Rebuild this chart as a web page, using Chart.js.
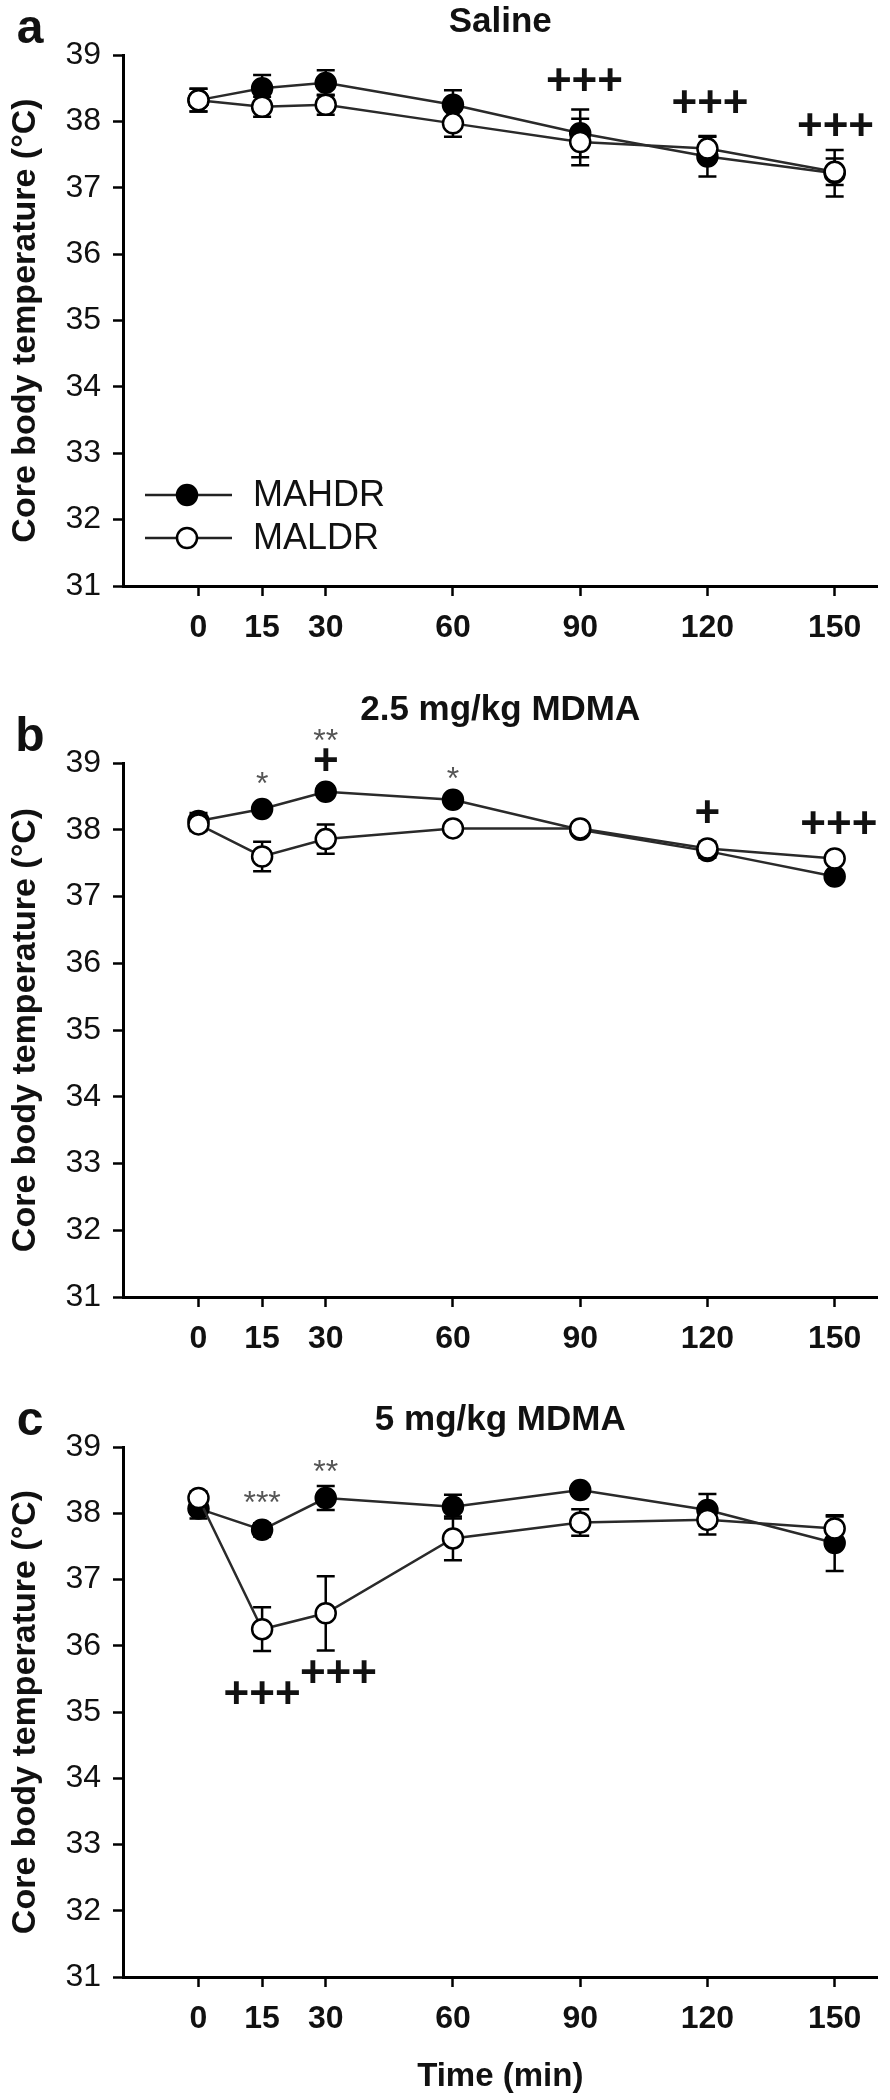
<!DOCTYPE html>
<html>
<head>
<meta charset="utf-8">
<title>Core body temperature</title>
<script src="https://cdn.jsdelivr.net/npm/chart.js@4.4.1/dist/chart.umd.min.js"></script>
<style>
  html, body { margin: 0; padding: 0; background: #fff; }
  #wrap { position: relative; width: 890px; height: 2100px; }
  .panel { position: absolute; left: 0; width: 890px; }
  canvas { display: block; }
</style>
</head>
<body>
<div id="wrap">
  <div class="panel" style="top:0px;height:660px"><canvas id="panelA" width="890" height="660"></canvas></div>
  <div class="panel" style="top:660px;height:700px"><canvas id="panelB" width="890" height="700"></canvas></div>
  <div class="panel" style="top:1360px;height:740px"><canvas id="panelC" width="890" height="740"></canvas></div>
</div>
<script>
// time after injection (min)
const times = [0, 15, 30, 60, 90, 120, 150];
const xTicks = [0, 15, 30, 60, 90, 120, 150];
const xMin = -17.8, xMax = 160.1;
const yMin = 31, yMax = 39;
const seriesNames = ['MAHDR', 'MALDR'];

// saline
const salineHigh    = [38.32, 38.50, 38.58, 38.25, 37.82, 37.47, 37.22];
const salineHighSem = [0.17, 0.20, 0.19, 0.22, 0.36, 0.30, 0.35];
const salineLow     = [38.32, 38.22, 38.25, 37.97, 37.69, 37.59, 37.24];
const salineLowSem  = [0.17, 0.15, 0.15, 0.20, 0.35, 0.19, 0.20];

// 2.5 mg/kg MDMA
const mdma25High    = [38.13, 38.31, 38.57, 38.45, 38.00, 37.68, 37.30];
const mdma25HighSem = [0.12, 0.06, 0.08, 0.06, 0.08, 0.10, 0.06];
const mdma25Low     = [38.08, 37.60, 37.86, 38.02, 38.02, 37.72, 37.57];
const mdma25LowSem  = [0.10, 0.22, 0.22, 0.08, 0.08, 0.10, 0.06];

// 5 mg/kg MDMA
const mdma5High    = [38.07, 37.75, 38.23, 38.10, 38.35, 38.05, 37.55];
const mdma5HighSem = [0.15, 0.10, 0.18, 0.18, 0.08, 0.24, 0.42];
const mdma5Low     = [38.23, 36.25, 36.49, 37.62, 37.86, 37.90, 37.77];
const mdma5LowSem  = [0.10, 0.33, 0.56, 0.33, 0.20, 0.22, 0.18];

// significance marks: [time, temperature, text]
const notesA = [[91, 38.58, '+++'], [120.6, 38.25, '+++'], [150.2, 37.90, '+++']];
const notesB = [[15, 38.77, '*'], [30, 39.42, '**'], [60, 38.85, '*'],
                [30, 39.00, '+'], [120, 38.22, '+'], [151, 38.06, '+++']];
const notesC = [[15, 38.24, '***'], [30, 38.71, '**'],
                [15, 35.24, '+++'], [33, 35.56, '+++']];

const FAMILY = "Arial, 'Liberation Sans', Helvetica, sans-serif";
Chart.defaults.font.family = FAMILY;
Chart.defaults.color = '#111';

const toPoints = vals => times.map((t, i) => ({ x: t, y: vals[i] }));

function drawMarker(ctx, px, py, filled) {
  ctx.beginPath();
  ctx.arc(px, py, 10, 0, Math.PI * 2);
  ctx.fillStyle = filled ? '#000' : '#fff';
  ctx.fill();
  ctx.lineWidth = 2.5;
  ctx.strokeStyle = '#000';
  ctx.stroke();
}

const extras = {
  id: 'extras',
  beforeDatasetsDraw(chart) {
    const { ctx, scales: { x, y } } = chart;
    ctx.save();
    ctx.strokeStyle = '#000';
    ctx.lineWidth = 2.5;
    chart.data.datasets.forEach(ds => {
      ds.data.forEach((p, i) => {
        const s = ds.sem[i];
        const px = x.getPixelForValue(p.x);
        const top = y.getPixelForValue(p.y + s), bot = y.getPixelForValue(p.y - s);
        ctx.beginPath();
        ctx.moveTo(px, top); ctx.lineTo(px, bot);
        ctx.moveTo(px - 9, top); ctx.lineTo(px + 9, top);
        ctx.moveTo(px - 9, bot); ctx.lineTo(px + 9, bot);
        ctx.stroke();
      });
    });
    ctx.restore();
  },
  afterDraw(chart, args, opts) {
    const { ctx, chartArea, scales: { x, y } } = chart;
    ctx.save();
    ctx.textAlign = 'center';
    ctx.textBaseline = 'middle';
    ctx.fillStyle = '#111';
    ctx.font = 'bold 48px ' + FAMILY;
    ctx.fillText(opts.letter, chartArea.left - 93, chartArea.top - 25);

    opts.notes.forEach(([t, v, txt]) => {
      const star = txt.includes('*');
      ctx.font = star ? '32px ' + FAMILY : 'bold 44px ' + FAMILY;
      ctx.fillStyle = star ? '#555' : '#111';
      ctx.fillText(txt, x.getPixelForValue(t), y.getPixelForValue(v) + (star ? 7 : 0));
    });

    if (opts.legend) {
      ctx.textAlign = 'left';
      ctx.font = '36px ' + FAMILY;
      seriesNames.forEach((name, i) => {
        const ry = chartArea.bottom - 91 + i * 43;
        const lx = chartArea.left + 22;
        ctx.strokeStyle = '#222';
        ctx.lineWidth = 2.5;
        ctx.beginPath();
        ctx.moveTo(lx, ry); ctx.lineTo(lx + 87, ry);
        ctx.stroke();
        drawMarker(ctx, lx + 42, ry, i === 0);
        ctx.fillStyle = '#111';
        ctx.fillText(name, lx + 108, ry + 1);
      });
    }
    ctx.restore();
  }
};

function makePanel(id, cfg) {
  const datasets = [
    { label: seriesNames[0], data: toPoints(cfg.high), sem: cfg.highSem, order: 1,
      pointBackgroundColor: '#000' },
    { label: seriesNames[1], data: toPoints(cfg.low), sem: cfg.lowSem, order: 0,
      pointBackgroundColor: '#fff' }
  ].map(d => Object.assign(d, {
    borderColor: '#2a2a2a', borderWidth: 2.5, tension: 0,
    pointRadius: 10, pointBorderColor: '#000', pointBorderWidth: 2.5
  }));

  new Chart(document.getElementById(id), {
    type: 'line',
    data: { datasets },
    plugins: [extras],
    options: {
      responsive: false,
      animation: false,
      events: [],
      layout: { padding: { left: 0, right: 7, top: 0, bottom: 0 } },
      plugins: {
        legend: { display: false },
        tooltip: { enabled: false },
        title: {
          display: true, text: cfg.title, fullSize: false, color: '#111',
          font: { size: 35, weight: 'bold' },
          padding: cfg.titlePad
        },
        extras: { letter: cfg.letter, notes: cfg.notes, legend: !!cfg.legend }
      },
      scales: {
        x: {
          type: 'linear', min: xMin, max: xMax,
          afterBuildTicks: s => { s.ticks = xTicks.map(v => ({ value: v })); },
          afterFit: s => { s.height = cfg.bottomSpace; },
          border: { display: true, color: '#000', width: 3 },
          grid: { drawOnChartArea: false, drawTicks: true, tickLength: 10, tickWidth: 2.5, tickColor: '#000' },
          ticks: { autoSkip: false, maxRotation: 0, padding: 13, color: '#111',
                   font: { size: 32, weight: 'bold' } },
          title: { display: !!cfg.xTitle, text: cfg.xTitle || '', color: '#111',
                   font: { size: 33, weight: 'bold' }, padding: { top: 0, bottom: 3 } }
        },
        y: {
          min: yMin, max: yMax,
          afterFit: s => { s.width = 123; },
          border: { display: true, color: '#000', width: 3 },
          grid: { drawOnChartArea: false, drawTicks: true, tickLength: 10, tickWidth: 2.5, tickColor: '#000' },
          ticks: { stepSize: 1, padding: 12, color: '#111', font: { size: 32 } },
          title: { display: true, text: 'Core body temperature (°C)', color: '#111',
                   font: { size: 34, weight: 'bold' }, padding: { top: 5, bottom: 0 } }
        }
      }
    }
  });
}

makePanel('panelA', {
  title: 'Saline', letter: 'a', titlePad: { top: 1, bottom: 12 }, bottomSpace: 74,
  high: salineHigh, highSem: salineHighSem, low: salineLow, lowSem: salineLowSem,
  notes: notesA, legend: true
});
makePanel('panelB', {
  title: '2.5 mg/kg MDMA', letter: 'b', titlePad: { top: 29, bottom: 32 }, bottomSpace: 63,
  high: mdma25High, highSem: mdma25HighSem, low: mdma25Low, lowSem: mdma25LowSem,
  notes: notesB
});
makePanel('panelC', {
  title: '5 mg/kg MDMA', letter: 'c', titlePad: { top: 39, bottom: 6 }, bottomSpace: 123,
  high: mdma5High, highSem: mdma5HighSem, low: mdma5Low, lowSem: mdma5LowSem,
  notes: notesC, xTitle: 'Time (min)'
});
</script>
</body>
</html>
